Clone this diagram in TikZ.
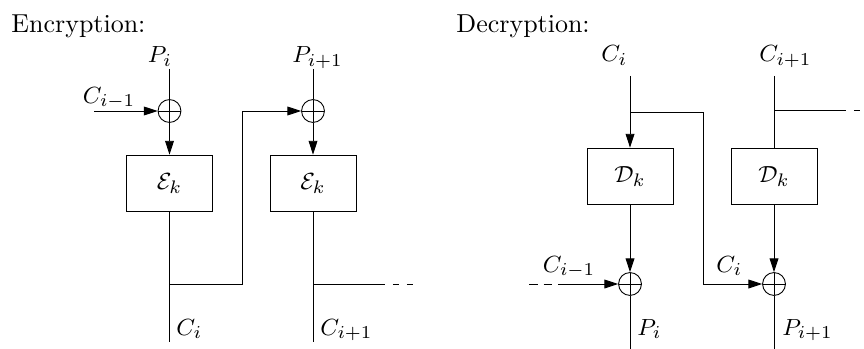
\documentclass[tikz,border=0pt]{standalone}
\usetikzlibrary{arrows.meta}
\DeclareMathSizes{9}{9}{7}{5}
\begin{document}
\begin{tikzpicture}[x=0.385pt,y=-0.385pt, line width=0.35pt,
  box/.style={draw, minimum width=33.1pt, minimum height=21.9pt, inner sep=0pt, font=\small},
  xor/.style={draw, circle, minimum size=8.8pt, inner sep=0pt,
    path picture={\draw (path picture bounding box.north) -- (path picture bounding box.south)
                        (path picture bounding box.west) -- (path picture bounding box.east);}},
  arr/.style={-{Triangle[length=5.3pt,width=3.4pt]}},
  lbl/.style={anchor=base west, inner sep=0pt, font=\small},
  ttl/.style={anchor=base west, inner sep=0pt},
  dashA/.style={dash pattern=on 2.4pt off 3pt, dash phase=2.4pt},
  dashB/.style={dash pattern=on 3.3pt off 2.3pt}
]
\useasboundingbox (0,0) rectangle (864,349);

% titles
\node[ttl] (enc) at (11,32.5) {Encryption:};
\node[ttl] (dec) at (456,32.5) {Decryption:};

% ---------------- Encryption ----------------
\coordinate (p1top) at (169.5,69);
\coordinate (p2top) at (313,69);
\node[xor] (x1) at (169.5,111) {};
\node[xor] (x2) at (313,111) {};
\node[box] (e1) at (169.5,183.5) {$\mathcal{E}_k$};
\node[box] (e2) at (313,183.5) {$\mathcal{E}_k$};
\coordinate (cin) at (94,111);
\coordinate (b1) at (169.5,284);
\coordinate (t1) at (242,284);
\coordinate (t2) at (242,111);
\coordinate (c1bot) at (169.5,342);
\coordinate (b2) at (313,284);
\coordinate (c2bot) at (313,342);
\coordinate (d1) at (385,284);
\coordinate (d1e) at (414,284);

\node[lbl] (lp1) at (147.5,63) {$P_i$};
\node[lbl] (lp2) at (292,63) {$P_{i+1}$};
\node[lbl] (lcm) at (82.5,103) {$C_{i-1}$};
\node[lbl] (lc1) at (176,335) {$C_i$};
\node[lbl] (lc2) at (320,335) {$C_{i+1}$};

\draw (p1top) -- (x1.north);
\draw[arr] (cin) -- (x1.west);
\draw[arr] (x1.south) -- (e1.north);
\draw (e1.south) -- (c1bot);
\draw[arr] (b1) -- (t1) -- (t2) -- (x2.west);
\draw (p2top) -- (x2.north);
\draw[arr] (x2.south) -- (e2.north);
\draw (e2.south) -- (c2bot);
\draw (b2) -- (d1);
\draw[dashA] (d1) -- (d1e);

% ---------------- Decryption ----------------
\coordinate (c3top) at (630,76);
\coordinate (c4top) at (774,76);
\node[box] (k1) at (630,176.5) {$\mathcal{D}_k$};
\node[box] (k2) at (774,176.5) {$\mathcal{D}_k$};
\node[xor] (x3) at (630,284) {};
\node[xor] (x4) at (774,284) {};
\coordinate (br1) at (630,112);
\coordinate (r1) at (703,112);
\coordinate (r2) at (703,284);
\coordinate (br2) at (774,110);
\coordinate (br2e) at (846,110);
\coordinate (edge) at (864,110);
\coordinate (p3bot) at (630,349);
\coordinate (p4bot) at (774,349);
\coordinate (cm1a) at (529,284);
\coordinate (cm1b) at (558,284);

\node[lbl] (lc3) at (601,62) {$C_i$};
\node[lbl] (lc4) at (759,62) {$C_{i+1}$};
\node[lbl] (lcm2) at (542.5,272) {$C_{i-1}$};
\node[lbl] (lci) at (716,272) {$C_i$};
\node[lbl] (lp3) at (637,335) {$P_i$};
\node[lbl] (lp4) at (782,335) {$P_{i+1}$};

\draw[arr] (c3top) -- (k1.north);
\draw[arr] (br1) -- (r1) -- (r2) -- (x4.west);
\draw[arr] (k1.south) -- (x3.north);
\draw (x3.south) -- (p3bot);
\draw[dashB] (cm1a) -- (cm1b);
\draw[arr] (cm1b) -- (x3.west);
\draw (c4top) -- (k2.north);
\draw (br2) -- (br2e);
\draw[dashA] (br2e) -- (edge);
\draw[arr] (k2.south) -- (x4.north);
\draw (x4.south) -- (p4bot);
\end{tikzpicture}
\end{document}
